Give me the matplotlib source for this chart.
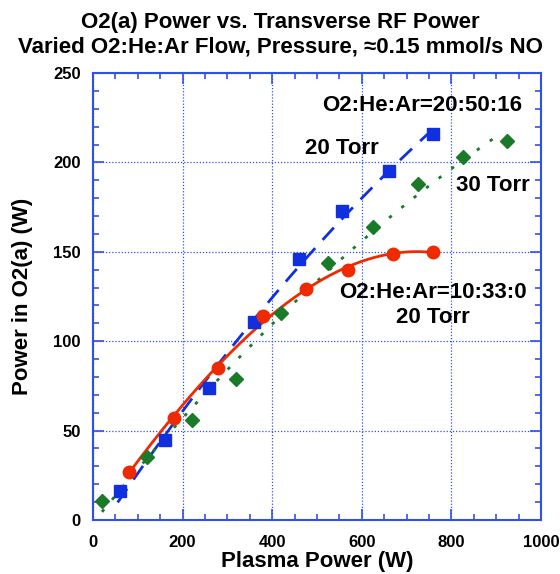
import numpy as np
import matplotlib
matplotlib.use("Agg")
import matplotlib.pyplot as plt
from matplotlib.ticker import MultipleLocator

plt.rcParams['font.family'] = ['Liberation Sans', 'DejaVu Sans']
plt.rcParams['font.weight'] = 'bold'

# O2:He:Ar=20:50:16, 20 Torr
blue_x = [60, 160, 260, 360, 460, 555, 660, 760]
blue_y = [16, 45, 74, 111, 146, 173, 195, 216]
# O2:He:Ar=20:50:16, 30 Torr
green_x = [20, 120, 220, 320, 420, 525, 625, 725, 825, 925]
green_y = [10.5, 35, 56, 79, 116, 144, 164, 188, 203, 212]
# O2:He:Ar=10:33:0, 20 Torr
red_x = [80, 180, 280, 380, 475, 570, 670, 760]
red_y = [27, 57, 85, 114, 129, 140, 149, 150]

BLUE = '#1030e0'
GREEN = '#1a7a2a'
RED = '#ee2a00'
AXC = '#3050ee'

fig = plt.figure(figsize=(5.6, 5.74), dpi=100)
ax = fig.add_axes([93 / 560, 1 - 520 / 574, 448 / 560, 447 / 574])

# curve fits through each series
def fit(x, y, deg, x0, x1):
    c = np.polyfit(x, y, deg)
    xs = np.linspace(x0, x1, 200)
    return xs, np.polyval(c, xs)

xs, ys = fit(blue_x, blue_y, 2, 55, 765)
ax.plot(xs, ys, color=BLUE, lw=2, dashes=(6, 4))
xs, ys = fit(green_x, green_y, 2, 20, 910)
ax.plot(xs, ys, color=GREEN, lw=2, dashes=(1.2, 4.5))
xs, ys = fit(red_x, red_y, 3, 78, 762)
ax.plot(xs, ys, color=RED, lw=2)

ax.plot(blue_x, blue_y, 's', color=BLUE, ms=8, zorder=5)
ax.plot(green_x, green_y, 'D', color=GREEN, ms=7, zorder=5)
ax.plot(red_x, red_y, 'o', color=RED, ms=9, zorder=5)

ax.set_xlim(0, 1000)
ax.set_ylim(0, 250)
ax.xaxis.set_major_locator(MultipleLocator(200))
ax.xaxis.set_minor_locator(MultipleLocator(50))
ax.yaxis.set_major_locator(MultipleLocator(50))
ax.yaxis.set_minor_locator(MultipleLocator(10))
ax.tick_params(which='both', direction='in', top=True, right=True, color=AXC,
               labelsize=12, width=1.2)
ax.tick_params(which='major', length=8)
ax.tick_params(axis='x', which='major', pad=11)
ax.tick_params(axis='y', which='major', pad=9)
ax.tick_params(which='minor', length=4)
for s in ax.spines.values():
    s.set_color(AXC)
    s.set_linewidth(1.5)
ax.grid(True, which='major', color=AXC, ls=(0, (1, 1.5)), lw=0.9)
ax.set_axisbelow(True)

ax.set_xlabel('Plasma Power (W)', fontsize=16, fontweight='bold', labelpad=0.5)
ax.set_ylabel('Power in O2(a) (W)', fontsize=16, fontweight='bold', labelpad=14)
fig.text(0.5, 1 - 22.5 / 574, 'O2(a) Power vs. Transverse RF Power',
         fontsize=16, fontweight='bold', ha='center', va='center')
fig.text(0.5, 1 - 47.5 / 574, 'Varied O2:He:Ar Flow, Pressure, \u22480.15 mmol/s NO',
         fontsize=16, fontweight='bold', ha='center', va='center')

tk = dict(fontsize=16, fontweight='bold', ha='center', va='center')
ax.text(734, 232, 'O2:He:Ar=20:50:16', **tk)
ax.text(556, 207.5, '20 Torr', **tk)
ax.text(892, 187, '30 Torr', **tk)
ax.text(759, 127.5, 'O2:He:Ar=10:33:0', **tk)
ax.text(759, 113, '20 Torr', **tk)

fig.savefig('out.png', dpi=100)
